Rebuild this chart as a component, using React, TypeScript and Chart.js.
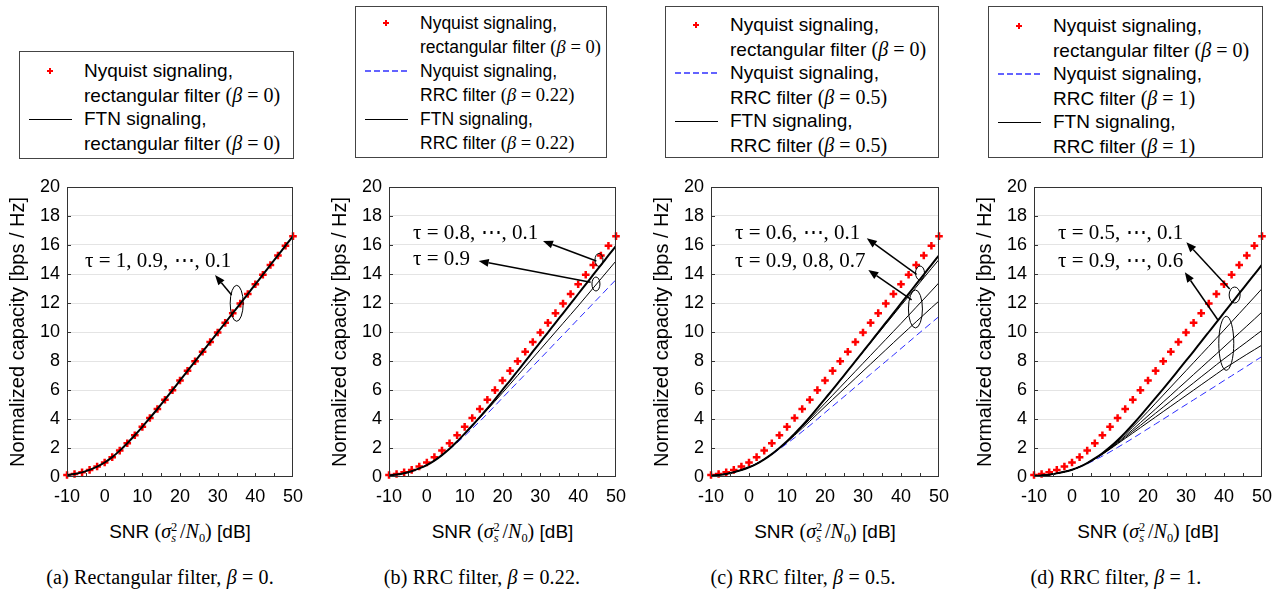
import React, { useEffect, useRef } from "react";
import { Chart, registerables } from "chart.js";

Chart.register(...registerables);

// SNR grid (dB) shared by every curve
const SNR_DB = [-10, -8, -6, -4, -2, 0, 2, 4, 6, 8, 10, 12, 14, 16, 18, 20, 22, 24, 26, 28, 30, 32, 34, 36, 38, 40, 42, 44, 46, 48, 50];

// Nyquist signaling with a rectangular filter (beta = 0)
const NYQ_RECT = [0.14, 0.21, 0.32, 0.49, 0.72, 1.0, 1.37, 1.82, 2.33, 2.88, 3.46, 4.07, 4.69, 5.33, 5.99, 6.66, 7.32, 7.98, 8.64, 9.31, 9.97, 10.63, 11.3, 11.96, 12.62, 13.29, 13.95, 14.62, 15.28, 15.95, 16.61];
// FTN with a rectangular filter: every tau gives the same capacity
const FTN_RECT = [0.14, 0.21, 0.32, 0.49, 0.72, 1.0, 1.37, 1.82, 2.33, 2.88, 3.46, 4.07, 4.69, 5.33, 5.99, 6.66, 7.32, 7.98, 8.64, 9.31, 9.97, 10.63, 11.3, 11.96, 12.62, 13.29, 13.95, 14.62, 15.28, 15.95, 16.61];

// RRC, beta = 0.22
const NYQ_RRC_022 = [0.11, 0.17, 0.26, 0.4, 0.59, 0.82, 1.12, 1.49, 1.91, 2.36, 2.84, 3.34, 3.84, 4.37, 4.91, 5.46, 6.0, 6.54, 7.08, 7.63, 8.17, 8.71, 9.26, 9.8, 10.34, 10.89, 11.43, 11.98, 12.52, 13.07, 13.61];
const FTN_022_TAU_08_01 = [0.11, 0.17, 0.26, 0.4, 0.59, 0.82, 1.13, 1.51, 1.95, 2.45, 2.99, 3.55, 4.13, 4.73, 5.36, 6.01, 6.65, 7.31, 7.97, 8.64, 9.3, 9.96, 10.63, 11.29, 11.95, 12.62, 13.28, 13.95, 14.61, 15.28, 15.94];
const FTN_022_TAU_09 = [0.11, 0.17, 0.26, 0.4, 0.59, 0.82, 1.13, 1.51, 1.95, 2.44, 2.97, 3.51, 4.07, 4.64, 5.22, 5.81, 6.4, 7.0, 7.6, 8.2, 8.8, 9.4, 10.0, 10.6, 11.2, 11.8, 12.42, 13.04, 13.66, 14.28, 14.9];

// RRC, beta = 0.5
const NYQ_RRC_05 = [0.09, 0.14, 0.21, 0.33, 0.48, 0.67, 0.91, 1.21, 1.55, 1.92, 2.31, 2.71, 3.13, 3.55, 3.99, 4.44, 4.88, 5.32, 5.76, 6.21, 6.65, 7.09, 7.53, 7.97, 8.41, 8.86, 9.3, 9.75, 10.19, 10.63, 11.07];
const FTN_05_TAU_06_01 = [0.09, 0.14, 0.21, 0.33, 0.48, 0.67, 0.91, 1.22, 1.58, 2.0, 2.46, 2.99, 3.54, 4.13, 4.75, 5.39, 6.03, 6.68, 7.33, 7.99, 8.65, 9.31, 9.98, 10.64, 11.3, 11.97, 12.63, 13.3, 13.96, 14.63, 15.29];
const FTN_05_TAU_07 = [0.09, 0.14, 0.21, 0.33, 0.48, 0.67, 0.91, 1.22, 1.58, 2.0, 2.46, 2.99, 3.54, 4.13, 4.75, 5.39, 6.03, 6.68, 7.33, 7.98, 8.62, 9.26, 9.9, 10.54, 11.18, 11.83, 12.46, 13.1, 13.74, 14.37, 15.0];
const FTN_05_TAU_08 = [0.09, 0.14, 0.21, 0.33, 0.48, 0.67, 0.91, 1.22, 1.58, 1.99, 2.43, 2.93, 3.45, 3.99, 4.54, 5.09, 5.64, 6.19, 6.74, 7.29, 7.84, 8.39, 8.94, 9.49, 10.04, 10.59, 11.15, 11.71, 12.27, 12.83, 13.4];
const FTN_05_TAU_09 = [0.09, 0.14, 0.21, 0.33, 0.48, 0.67, 0.91, 1.22, 1.58, 1.98, 2.4, 2.87, 3.36, 3.85, 4.35, 4.85, 5.34, 5.83, 6.32, 6.81, 7.3, 7.79, 8.28, 8.77, 9.26, 9.75, 10.23, 10.71, 11.19, 11.67, 12.14];

// RRC, beta = 1
const NYQ_RRC_1 = [0.07, 0.11, 0.16, 0.25, 0.36, 0.5, 0.69, 0.91, 1.17, 1.44, 1.73, 2.04, 2.35, 2.67, 3.0, 3.33, 3.66, 3.99, 4.32, 4.66, 4.99, 5.32, 5.65, 5.98, 6.31, 6.65, 6.98, 7.31, 7.64, 7.98, 8.31];
const FTN_1_TAU_05_01 = [0.07, 0.11, 0.16, 0.25, 0.36, 0.5, 0.7, 0.96, 1.28, 1.64, 2.06, 2.54, 3.06, 3.62, 4.21, 4.83, 5.45, 6.08, 6.72, 7.37, 8.02, 8.67, 9.34, 10.0, 10.66, 11.33, 11.99, 12.66, 13.32, 13.98, 14.64];
const FTN_1_TAU_06 = [0.07, 0.11, 0.16, 0.25, 0.36, 0.5, 0.7, 0.96, 1.27, 1.62, 2.02, 2.46, 2.94, 3.45, 3.98, 4.53, 5.09, 5.65, 6.21, 6.77, 7.33, 7.89, 8.45, 9.01, 9.57, 10.13, 10.7, 11.27, 11.84, 12.41, 12.99];
const FTN_1_TAU_07 = [0.07, 0.11, 0.16, 0.25, 0.36, 0.5, 0.7, 0.96, 1.26, 1.6, 1.98, 2.39, 2.83, 3.28, 3.75, 4.22, 4.69, 5.17, 5.64, 6.12, 6.59, 7.07, 7.54, 8.02, 8.49, 8.97, 9.45, 9.93, 10.41, 10.89, 11.38];
const FTN_1_TAU_08 = [0.07, 0.11, 0.16, 0.25, 0.36, 0.5, 0.7, 0.96, 1.25, 1.58, 1.95, 2.34, 2.74, 3.15, 3.56, 3.98, 4.4, 4.82, 5.24, 5.66, 6.08, 6.49, 6.91, 7.32, 7.74, 8.15, 8.54, 8.93, 9.32, 9.72, 10.11];
const FTN_1_TAU_09 = [0.07, 0.11, 0.16, 0.25, 0.36, 0.5, 0.7, 0.96, 1.24, 1.56, 1.92, 2.29, 2.66, 3.03, 3.4, 3.77, 4.14, 4.51, 4.88, 5.25, 5.62, 5.99, 6.36, 6.73, 7.1, 7.47, 7.8, 8.13, 8.46, 8.78, 9.1];

// Axis ticks
const X_TICKS = [-10, 0, 10, 20, 30, 40, 50];
const Y_TICKS = [0, 2, 4, 6, 8, 10, 12, 14, 16, 18, 20];

const SANS = "'Liberation Sans', Arial, Helvetica, sans-serif";
const SERIF = "'Liberation Serif', 'Times New Roman', 'DejaVu Serif', serif";

const PLOT_TOP = 187;
const PLOT_BOTTOM = 477;
const Y_AXIS_W = 67;
const X_AXIS_H = 32;
const PAD_TOP = 12;
const PAD_RIGHT = 14;

type Kind = "thick" | "thin" | "dash";
type Curve = { values: number[]; kind: Kind };
type Note = {
  texts: { x: number; y: number; text: string }[];
  arrows: { from: [number, number]; to: [number, number] }[];
  ellipses: { x: number; y: number; rx: number; ry: number }[];
};
type LegendItem = { marker: "plus" | "dash" | "line"; first: string; second: string; beta: string };
type PanelSpec = {
  id: string;
  plotLeft: number;
  plotRight: number;
  legend: { left: number; top: number; width: number; height: number; fontSize: number; firstRow: number; items: LegendItem[] };
  curves: Curve[];
  notes: Note;
  caption: { cx: number; tag: string; beta: string };
};

const PANELS: PanelSpec[] = [
  {
    id: "a",
    plotLeft: 67,
    plotRight: 293,
    legend: {
      left: 19, top: 51, width: 275, height: 108, fontSize: 19, firstRow: 19,
      items: [
        { marker: "plus", first: "Nyquist signaling,", second: "rectangular filter", beta: "0" },
        { marker: "line", first: "FTN signaling,", second: "rectangular filter", beta: "0" },
      ],
    },
    curves: [{ values: FTN_RECT, kind: "thick" }],
    notes: {
      texts: [{ x: -5.2, y: 14.83, text: "τ = 1, 0.9, ⋯, 0.1" }],
      arrows: [{ from: [33.7, 12.55], to: [29.3, 13.93] }],
      ellipses: [{ x: 35.05, y: 11.98, rx: 6.5, ry: 18 }],
    },
    caption: { cx: 160, tag: "(a) Rectangular filter, ", beta: "0" },
  },
  {
    id: "b",
    plotLeft: 389,
    plotRight: 616,
    legend: {
      left: 355, top: 6, width: 252, height: 152, fontSize: 17.5, firstRow: 16,
      items: [
        { marker: "plus", first: "Nyquist signaling,", second: "rectangular filter", beta: "0" },
        { marker: "dash", first: "Nyquist signaling,", second: "RRC filter", beta: "0.22" },
        { marker: "line", first: "FTN signaling,", second: "RRC filter", beta: "0.22" },
      ],
    },
    curves: [
      { values: FTN_022_TAU_08_01, kind: "thick" },
      { values: FTN_022_TAU_09, kind: "thin" },
      { values: NYQ_RRC_022, kind: "dash" },
    ],
    notes: {
      texts: [
        { x: -3.66, y: 16.8, text: "τ = 0.8, ⋯, 0.1" },
        { x: -3.66, y: 14.97, text: "τ = 0.9" },
      ],
      arrows: [
        { from: [44.8, 14.9], to: [30.7, 16.28] },
        { from: [43.3, 13.43], to: [13.7, 14.9] },
      ],
      ellipses: [
        { x: 45.5, y: 14.97, rx: 4, ry: 6.5 },
        { x: 44.7, y: 13.31, rx: 4, ry: 7 },
      ],
    },
    caption: { cx: 482, tag: "(b) RRC filter, ", beta: "0.22" },
  },
  {
    id: "c",
    plotLeft: 711,
    plotRight: 939,
    legend: {
      left: 665, top: 6, width: 274, height: 152, fontSize: 19, firstRow: 18,
      items: [
        { marker: "plus", first: "Nyquist signaling,", second: "rectangular filter", beta: "0" },
        { marker: "dash", first: "Nyquist signaling,", second: "RRC filter", beta: "0.5" },
        { marker: "line", first: "FTN signaling,", second: "RRC filter", beta: "0.5" },
      ],
    },
    curves: [
      { values: FTN_05_TAU_06_01, kind: "thick" },
      { values: FTN_05_TAU_07, kind: "thin" },
      { values: FTN_05_TAU_08, kind: "thin" },
      { values: FTN_05_TAU_09, kind: "thin" },
      { values: NYQ_RRC_05, kind: "dash" },
    ],
    notes: {
      texts: [
        { x: -3.68, y: 16.8, text: "τ = 0.6, ⋯, 0.1" },
        { x: -3.68, y: 14.85, text: "τ = 0.9, 0.8, 0.7" },
      ],
      arrows: [
        { from: [44.1, 13.98], to: [31.0, 16.46] },
        { from: [42.8, 12.21], to: [31.4, 14.28] },
      ],
      ellipses: [
        { x: 45.0, y: 14.07, rx: 4.5, ry: 7 },
        { x: 43.8, y: 11.59, rx: 7, ry: 19 },
      ],
    },
    caption: { cx: 803, tag: "(c) RRC filter, ", beta: "0.5" },
  },
  {
    id: "d",
    plotLeft: 1034,
    plotRight: 1262,
    legend: {
      left: 988, top: 6, width: 275, height: 152, fontSize: 19, firstRow: 19,
      items: [
        { marker: "plus", first: "Nyquist signaling,", second: "rectangular filter", beta: "0" },
        { marker: "dash", first: "Nyquist signaling,", second: "RRC filter", beta: "1" },
        { marker: "line", first: "FTN signaling,", second: "RRC filter", beta: "1" },
      ],
    },
    curves: [
      { values: FTN_1_TAU_05_01, kind: "thick" },
      { values: FTN_1_TAU_06, kind: "thin" },
      { values: FTN_1_TAU_07, kind: "thin" },
      { values: FTN_1_TAU_08, kind: "thin" },
      { values: FTN_1_TAU_09, kind: "thin" },
      { values: NYQ_RRC_1, kind: "dash" },
    ],
    notes: {
      texts: [
        { x: -3.68, y: 16.8, text: "τ = 0.5, ⋯, 0.1" },
        { x: -3.68, y: 14.85, text: "τ = 0.9, ⋯, 0.6" },
      ],
      arrows: [
        { from: [41.5, 12.97], to: [30.1, 16.19] },
        { from: [38.4, 10.83], to: [29.7, 14.12] },
      ],
      ellipses: [
        { x: 42.8, y: 12.55, rx: 5.5, ry: 8 },
        { x: 40.6, y: 9.22, rx: 7.5, ry: 27 },
      ],
    },
    caption: { cx: 1116, tag: "(d) RRC filter, ", beta: "1" },
  },
];

const BLUE = "#2b2bff";
const RED = "#ff0000";

// Plot frame, inward tick marks and the tau call-outs
function makeOverlay(notes: Note) {
  return {
    id: "frameAndNotes",
    afterDatasetsDraw(chart: any) {
      const { ctx, chartArea, scales } = chart;
      const { left, right, top, bottom } = chartArea;
      const xs = scales.x;
      const ys = scales.y;
      ctx.save();
      ctx.strokeStyle = "#333";
      ctx.lineWidth = 1;
      ctx.strokeRect(Math.round(left) + 0.5, Math.round(top) + 0.5, Math.round(right - left) - 1, Math.round(bottom - top) - 1);
      ctx.beginPath();
      for (let v = 2; v < 20; v += 2) {
        const py = Math.round(ys.getPixelForValue(v)) + 0.5;
        ctx.moveTo(left, py);
        ctx.lineTo(left + 4, py);
      }
      for (let v = -5; v < 50; v += 5) {
        const px = Math.round(xs.getPixelForValue(v)) + 0.5;
        ctx.moveTo(px, bottom);
        ctx.lineTo(px, bottom - 4);
      }
      ctx.stroke();

      ctx.fillStyle = "#000";
      ctx.strokeStyle = "#000";
      ctx.font = `21px ${SERIF}`;
      ctx.textAlign = "left";
      ctx.textBaseline = "middle";
      for (const t of notes.texts) {
        ctx.fillText(t.text, xs.getPixelForValue(t.x), ys.getPixelForValue(t.y));
      }
      for (const a of notes.arrows) {
        const x1 = xs.getPixelForValue(a.from[0]);
        const y1 = ys.getPixelForValue(a.from[1]);
        const x2 = xs.getPixelForValue(a.to[0]);
        const y2 = ys.getPixelForValue(a.to[1]);
        const ang = Math.atan2(y2 - y1, x2 - x1);
        const hl = 10;
        const hw = 4;
        const bx = x2 - hl * Math.cos(ang);
        const by = y2 - hl * Math.sin(ang);
        ctx.lineWidth = 1.5;
        ctx.beginPath();
        ctx.moveTo(x1, y1);
        ctx.lineTo(bx, by);
        ctx.stroke();
        ctx.beginPath();
        ctx.moveTo(x2, y2);
        ctx.lineTo(bx + hw * Math.sin(ang), by - hw * Math.cos(ang));
        ctx.lineTo(bx - hw * Math.sin(ang), by + hw * Math.cos(ang));
        ctx.closePath();
        ctx.fill();
      }
      ctx.lineWidth = 1;
      for (const e of notes.ellipses) {
        ctx.beginPath();
        ctx.ellipse(xs.getPixelForValue(e.x), ys.getPixelForValue(e.y), e.rx, e.ry, 0, 0, Math.PI * 2);
        ctx.stroke();
      }
      ctx.restore();
    },
  };
}

function CapacityChart({ spec }: { spec: PanelSpec }) {
  const ref = useRef<HTMLCanvasElement | null>(null);
  const width = spec.plotRight - spec.plotLeft + Y_AXIS_W + PAD_RIGHT;
  const height = PLOT_BOTTOM - PLOT_TOP + PAD_TOP + X_AXIS_H;

  useEffect(() => {
    if (!ref.current) return;
    const lineSets = spec.curves.map((c) => ({
      data: SNR_DB.map((x, i) => ({ x, y: c.values[i] })),
      showLine: true,
      borderColor: c.kind === "dash" ? BLUE : "#000",
      borderWidth: c.kind === "thick" ? 2 : 1,
      borderDash: c.kind === "dash" ? [7, 4] : [],
      pointRadius: 0,
      cubicInterpolationMode: "monotone",
      fill: false,
    }));
    const redSet = {
      data: SNR_DB.map((x, i) => ({ x, y: NYQ_RECT[i] })),
      showLine: false,
      pointStyle: "cross",
      pointRadius: 3.8,
      borderColor: RED,
      backgroundColor: RED,
      borderWidth: 2.5,
      clip: 10,
    };
    const chart = new Chart(ref.current, {
      type: "scatter",
      data: { datasets: [...lineSets, redSet] as any },
      options: {
        responsive: false,
        maintainAspectRatio: false,
        animation: false,
        events: [],
        layout: { padding: { top: PAD_TOP, right: PAD_RIGHT, left: 0, bottom: 0 } },
        plugins: { legend: { display: false }, tooltip: { enabled: false } },
        scales: {
          x: {
            type: "linear",
            min: -10,
            max: 50,
            afterBuildTicks: (s: any) => {
              s.ticks = X_TICKS.map((v) => ({ value: v }));
            },
            ticks: { color: "#000", font: { family: SANS, size: 18 }, padding: 9, maxRotation: 0, autoSkip: false },
            grid: { display: false, drawTicks: false },
            border: { display: false },
            afterFit: (s: any) => {
              s.height = X_AXIS_H;
              s.paddingLeft = 0;
              s.paddingRight = 0;
              s.paddingTop = 0;
              s.paddingBottom = 0;
            },
          },
          y: {
            type: "linear",
            min: 0,
            max: 20,
            afterBuildTicks: (s: any) => {
              s.ticks = Y_TICKS.map((v) => ({ value: v }));
            },
            ticks: { color: "#000", font: { family: SANS, size: 18 }, padding: 7, autoSkip: false },
            grid: {
              drawTicks: false,
              lineWidth: 1,
              color: (c: any) => (c.tick && (c.tick.value === 0 || c.tick.value === 20) ? "rgba(0,0,0,0)" : "#e4e4e4"),
            },
            border: { display: false },
            title: {
              display: true,
              text: "Normalized capacity [bps / Hz]",
              color: "#000",
              font: { family: SANS, size: 20 },
              padding: { top: 6, bottom: 0 },
            },
            afterFit: (s: any) => {
              s.width = Y_AXIS_W;
              s.paddingTop = 0;
              s.paddingBottom = 0;
              s.paddingLeft = 0;
              s.paddingRight = 0;
            },
          },
        },
      } as any,
      plugins: [makeOverlay(spec.notes)],
    });
    return () => chart.destroy();
  }, [spec]);

  return (
    <canvas
      ref={ref}
      width={width}
      height={height}
      style={{ position: "absolute", left: spec.plotLeft - Y_AXIS_W, top: PLOT_TOP - PAD_TOP, width, height, display: "block" }}
    />
  );
}

function Marker({ kind }: { kind: LegendItem["marker"] }) {
  return (
    <svg width={64} height={12} style={{ position: "absolute", left: 0, top: -6, overflow: "visible" }}>
      {kind === "plus" && (
        <g stroke={RED} strokeWidth={2}>
          <line x1={27} y1={6} x2={33} y2={6} />
          <line x1={30} y1={3} x2={30} y2={9} />
        </g>
      )}
      {kind === "dash" && <line x1={9} y1={6} x2={52} y2={6} stroke="#3030ff" strokeWidth={1.3} strokeDasharray="6 3" />}
      {kind === "line" && <line x1={9} y1={6.5} x2={52} y2={6.5} stroke="#000" strokeWidth={1} />}
    </svg>
  );
}

function Legend({ spec }: { spec: PanelSpec["legend"] }) {
  const step = 24;
  const rows: React.ReactNode[] = [];
  spec.items.forEach((it, i) => {
    const y1 = spec.firstRow + step * (2 * i);
    const y2 = spec.firstRow + step * (2 * i + 1);
    rows.push(
      <div key={`m${i}`} style={{ position: "absolute", left: 0, top: y1 }}>
        <Marker kind={it.marker} />
      </div>
    );
    rows.push(
      <div key={`a${i}`} style={{ position: "absolute", left: 64, top: y1 - 11, lineHeight: "22px", whiteSpace: "nowrap" }}>
        {it.first}
      </div>
    );
    rows.push(
      <div key={`b${i}`} style={{ position: "absolute", left: 64, top: y2 - 11, lineHeight: "22px", whiteSpace: "nowrap" }}>
        {it.second}{" "}
        <span style={{ fontFamily: SERIF, fontSize: spec.fontSize + 1 }}>
          (<i>β</i>&nbsp;=&nbsp;{it.beta})
        </span>
      </div>
    );
  });
  return (
    <div
      style={{
        position: "absolute",
        left: spec.left,
        top: spec.top,
        width: spec.width,
        height: spec.height,
        boxSizing: "border-box",
        border: "1px solid #444",
        fontFamily: SANS,
        fontSize: spec.fontSize,
        color: "#000",
      }}
    >
      {rows}
    </div>
  );
}

function SnrTitle({ cx }: { cx: number }) {
  return (
    <div
      style={{
        position: "absolute",
        left: cx - 150,
        width: 300,
        top: 518,
        textAlign: "center",
        fontFamily: SANS,
        fontSize: 19,
        lineHeight: "26px",
        whiteSpace: "nowrap",
        color: "#000",
      }}
    >
      SNR{" "}
      <span style={{ fontFamily: SERIF, fontSize: 20 }}>
        (<i>σ</i>
        <sup style={{ fontSize: "0.62em", lineHeight: 0, verticalAlign: "0.55em" }}>2</sup>
        <sub style={{ fontSize: "0.62em", lineHeight: 0, verticalAlign: "-0.3em", marginLeft: "-0.5em" }}>
          <i>s</i>
        </sub>
        {"\u2009"}/<i>N</i>
        <sub style={{ fontSize: "0.62em", lineHeight: 0, verticalAlign: "-0.3em" }}>0</sub>)
      </span>{" "}
      [dB]
    </div>
  );
}

function Caption({ spec }: { spec: PanelSpec["caption"] }) {
  return (
    <div
      style={{
        position: "absolute",
        left: spec.cx - 160,
        width: 320,
        top: 565,
        textAlign: "center",
        fontFamily: SERIF,
        fontSize: 20,
        letterSpacing: "0.15px",
        lineHeight: "24px",
        whiteSpace: "nowrap",
        color: "#000",
      }}
    >
      {spec.tag}
      <i>β</i>&nbsp;=&nbsp;{spec.beta}.
    </div>
  );
}

function Panel({ spec }: { spec: PanelSpec }) {
  return (
    <>
      <Legend spec={spec.legend} />
      <CapacityChart spec={spec} />
      <SnrTitle cx={(spec.plotLeft + spec.plotRight) / 2} />
      <Caption spec={spec.caption} />
    </>
  );
}

export default function App() {
  return (
    <div style={{ position: "absolute", left: 0, top: 0, width: 1282, height: 589, background: "#fff", overflow: "hidden" }}>
      {PANELS.map((p) => (
        <Panel key={p.id} spec={p} />
      ))}
    </div>
  );
}
